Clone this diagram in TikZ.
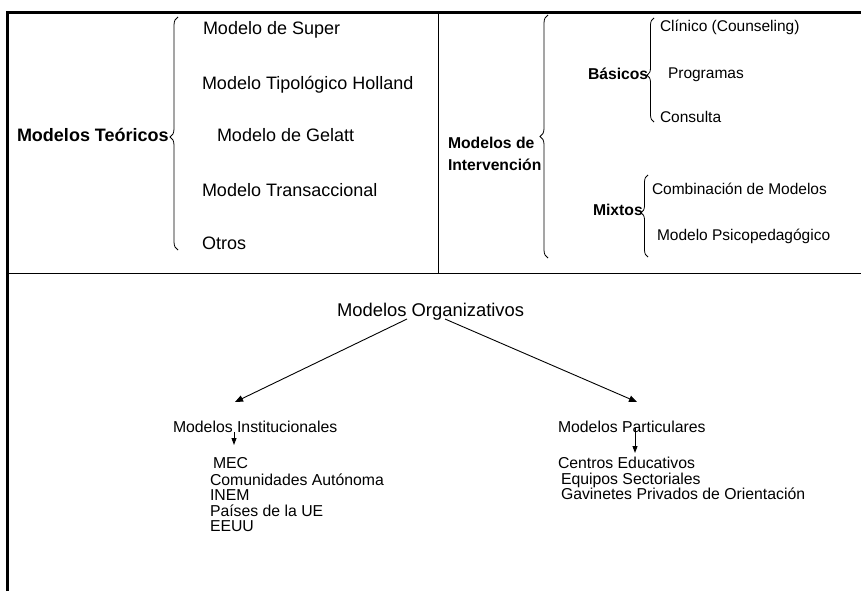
\documentclass[tikz,border=0pt]{standalone}
\usepackage{fontspec}
\setmainfont{Liberation Sans}
\usetikzlibrary{decorations.pathreplacing,arrows.meta}
\begin{document}
\begin{tikzpicture}[x=1pt,y=-1pt,
  txt/.style={anchor=base west,inner sep=0pt,outer sep=0pt},
  big/.style={txt,font=\fontsize{18}{18}\selectfont},
  bigb/.style={txt,font=\fontsize{18}{18}\selectfont\bfseries},
  midb/.style={txt,font=\fontsize{15.7}{15.7}\selectfont\bfseries},
  mid/.style={txt,font=\fontsize{15.5}{15.5}\selectfont},
  sml/.style={txt,font=\fontsize{15.8}{15.8}\selectfont},
  frameline/.style={line width=3pt},
  hrule/.style={line width=1.6pt},
  vrule/.style={line width=1.1pt},
  br/.style={decorate,line width=0.8pt},
  arr/.style={-{Triangle[length=7pt,width=5pt]},line width=0.9pt},
  bigarr/.style={-{Triangle[length=8pt,width=6.5pt]},line width=0.9pt}
]
\useasboundingbox (0,0) rectangle (861,591);

% frame and dividers
\coordinate (fBL) at (7.5,591);
\coordinate (fTL) at (7.5,12.5);
\coordinate (fTR) at (861,12.5);
\coordinate (hL) at (7.5,273.5);
\coordinate (hR) at (861,273.5);
\coordinate (vT) at (438.5,12.5);
\coordinate (vB) at (438.5,273.5);
\draw[frameline] (fBL) -- (fTL) -- (fTR);
\draw[hrule] (hL) -- (hR);
\draw[vrule] (vT) -- (vB);

% Modelos Teoricos
\node[bigb] (mt) at (17,141.7) {Modelos Teóricos};
\node[big] (s1) at (203,35) {Modelo de Super};
\node[big] (s2) at (202,90) {Modelo Tipológico Holland};
\node[big] (s3) at (217,141.7) {Modelo de Gelatt};
\node[big] (s4) at (202,196.7) {Modelo Transaccional};
\node[big] (s5) at (202,249.3) {Otros};
\coordinate (b1a) at (178,250);
\coordinate (b1b) at (178,17);
\draw[br,decoration={brace,amplitude=8pt,aspect=0.485}] (b1a) -- (b1b);

% Modelos de Intervencion
\node[midb] (mi1) at (448,148) {Modelos de};
\node[midb] (mi2) at (448,170) {Intervención};
\coordinate (b2a) at (548,258);
\coordinate (b2b) at (548,15);
\draw[br,decoration={brace,amplitude=8pt,aspect=0.5}] (b2a) -- (b2b);

\node[midb] (ba) at (588,80) {Básicos};
\node[mid] (c1) at (660,32) {Clínico (Counseling)};
\node[mid] (c2) at (668,79) {Programas};
\node[mid] (c3) at (660,123) {Consulta};
\coordinate (b3a) at (654,122);
\coordinate (b3b) at (654,18);
\draw[br,decoration={brace,amplitude=7pt,aspect=0.45}] (b3a) -- (b3b);

\node[midb] (mx) at (593,215) {Mixtos};
\node[mid] (m1) at (652,194) {Combinación de Modelos};
\node[mid] (m2) at (657,240) {Modelo Psicopedagógico};
\coordinate (b4a) at (648,257);
\coordinate (b4b) at (648,175);
\draw[br,decoration={brace,amplitude=7pt,aspect=0.54}] (b4a) -- (b4b);

% Modelos Organizativos
\node[txt,font=\fontsize{18.4}{18.4}\selectfont] (mo) at (337,316) {Modelos Organizativos};
\node[sml] (ins) at (173,432) {Modelos Institucionales};
\node[sml] (par) at (558,432) {Modelos Particulares};

\coordinate (aL) at (407,319);
\coordinate (aR) at (445,319);
\coordinate (tL) at (235,402);
\coordinate (tR) at (637,402);
\draw[bigarr] (aL) -- (tL);
\draw[bigarr] (aR) -- (tR);

\node[sml] (i1) at (213,468) {MEC};
\node[sml] (i2) at (210,485) {Comunidades Autónoma};
\node[sml] (i3) at (210,500.5) {INEM};
\node[sml] (i4) at (210,516) {Países de la UE};
\node[sml] (i5) at (210,531.5) {EEUU};

\node[sml] (p1) at (558,468) {Centros Educativos};
\node[sml] (p2) at (561,484.5) {Equipos Sectoriales};
\node[sml] (p3) at (561,499) {Gavinetes Privados de Orientación};

\coordinate (sL1) at (234,432);
\coordinate (sL2) at (234,445);
\coordinate (sR1) at (635,428);
\coordinate (sR2) at (635,453);
\draw[arr] (sL1) -- (sL2);
\draw[arr] (sR1) -- (sR2);
\end{tikzpicture}
\end{document}
